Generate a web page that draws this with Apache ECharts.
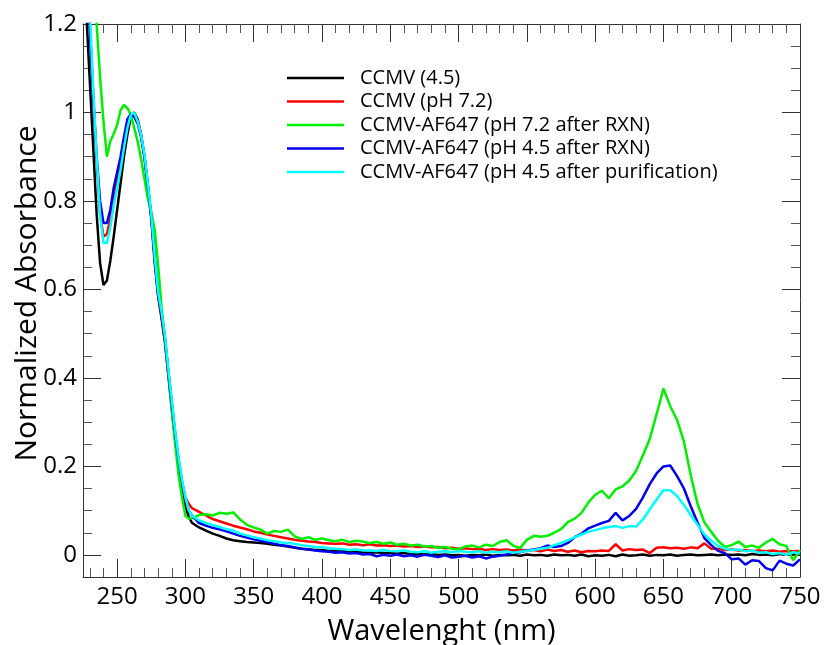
<!DOCTYPE html>
<html>
<head>
<meta charset="utf-8">
<script src="https://cdn.jsdelivr.net/npm/echarts@6/dist/echarts.min.js"></script>
<style>
html,body{margin:0;padding:0;background:#fff;}
#chart{width:828px;height:645px;}
</style>
</head>
<body>
<div id="chart"></div>
<script>
// Wavelengths (nm): 2.5 nm steps from 225 to 305, then 5 nm steps to 750
const wavelengths = [
  225,227.5,230,232.5,235,237.5,240,242.5,245,247.5,
  250,252.5,255,257.5,260,262.5,265,267.5,270,272.5,
  275,277.5,280,282.5,285,287.5,290,292.5,295,297.5,
  300,302.5,305,
  310,315,320,325,330,335,340,345,350,355,
  360,365,370,375,380,385,390,395,400,405,
  410,415,420,425,430,435,440,445,450,455,
  460,465,470,475,480,485,490,495,500,505,
  510,515,520,525,530,535,540,545,550,555,
  560,565,570,575,580,585,590,595,600,605,
  610,615,620,625,630,635,640,645,650,655,
  660,665,670,675,680,685,690,695,700,705,
  710,715,720,725,730,735,740,745,750
];

const seriesNames = [
  'CCMV (4.5)',
  'CCMV (pH 7.2)',
  'CCMV-AF647 (pH 7.2 after RXN)',
  'CCMV-AF647 (pH 4.5 after RXN)',
  'CCMV-AF647 (pH 4.5 after purification)'
];

const ccmv45 = [
  1.50,1.22,1.07,0.92,0.77,0.66,0.61,0.62,0.665,0.72,
  0.78,0.84,0.90,0.95,0.99,1.00,0.985,0.95,0.90,0.83,
  0.76,0.66,0.585,0.535,0.48,0.405,0.33,0.26,0.20,0.15,
  0.11,0.085,0.072,
  0.062,0.055,0.048,0.043,0.037,0.033,0.031,0.029,0.028,0.027,
  0.025,0.023,0.021,0.019,0.016,0.014,0.013,0.011,0.011,0.009,
  0.010,0.008,0.008,0.007,0.006,0.005,0.006,0.004,0.004,0.003,
  0.004,0.002,0.002,0.001,0.002,0.000,0.001,-0.001,0.000,-0.002,
  0.000,-0.001,0.001,-0.002,0.000,-0.001,0.000,-0.002,0.001,-0.001,
  0.000,-0.002,0.001,-0.001,0.000,-0.002,0.001,-0.003,-0.001,-0.002,
  0.000,-0.003,0.001,-0.002,-0.001,0.001,-0.002,0.000,-0.001,0.001,
  -0.002,0.000,0.001,-0.001,0.000,0.001,-0.001,0.001,0.000,0.001,
  -0.001,0.002,0.000,0.001,-0.001,0.002,0.000,0.003,0.001
];

const ccmv72 = [
  1.55,1.36,1.20,1.04,0.89,0.77,0.72,0.725,0.76,0.81,
  0.85,0.89,0.935,0.975,0.995,1.00,0.98,0.95,0.90,0.835,
  0.765,0.67,0.59,0.54,0.485,0.41,0.34,0.27,0.21,0.165,
  0.13,0.115,0.105,
  0.097,0.089,0.081,0.076,0.071,0.066,0.062,0.058,0.053,0.050,
  0.046,0.043,0.040,0.037,0.034,0.032,0.030,0.029,0.027,0.026,
  0.025,0.026,0.023,0.024,0.022,0.024,0.021,0.022,0.020,0.021,
  0.019,0.020,0.018,0.019,0.017,0.018,0.015,0.016,0.014,0.015,
  0.013,0.014,0.011,0.013,0.011,0.012,0.010,0.012,0.009,0.011,
  0.008,0.012,0.009,0.011,0.007,0.010,0.006,0.009,0.008,0.010,
  0.009,0.024,0.010,0.013,0.011,0.012,0.004,0.016,0.017,0.015,
  0.016,0.014,0.017,0.015,0.026,0.014,0.014,0.011,0.012,0.010,
  0.011,0.009,0.010,0.008,0.010,0.007,0.009,0.008,0.009
];

const af647pH72 = [
  1.90,1.65,1.45,1.30,1.20,1.08,0.98,0.90,0.935,0.952,
  0.972,1.005,1.017,1.010,0.995,0.965,0.935,0.895,0.85,0.805,
  0.775,0.735,0.655,0.56,0.49,0.41,0.33,0.25,0.18,0.13,
  0.088,0.082,0.083,
  0.090,0.092,0.089,0.095,0.093,0.096,0.080,0.068,0.062,0.057,
  0.048,0.054,0.052,0.057,0.042,0.036,0.040,0.034,0.037,0.033,
  0.031,0.034,0.029,0.032,0.030,0.027,0.029,0.025,0.028,0.023,
  0.025,0.021,0.023,0.019,0.020,0.016,0.018,0.014,0.013,0.019,
  0.021,0.017,0.023,0.020,0.029,0.033,0.021,0.015,0.034,0.043,
  0.041,0.043,0.050,0.058,0.074,0.082,0.095,0.118,0.136,0.145,
  0.128,0.148,0.155,0.168,0.190,0.225,0.262,0.318,0.376,0.336,
  0.305,0.256,0.180,0.115,0.073,0.052,0.032,0.018,0.022,0.030,
  0.018,0.021,0.016,0.028,0.036,0.024,0.020,-0.012,0.010
];

const af647pH45 = [
  1.55,1.35,1.19,1.03,0.90,0.80,0.75,0.75,0.78,0.83,
  0.865,0.90,0.945,0.985,0.997,0.99,0.975,0.945,0.90,0.835,
  0.765,0.67,0.59,0.545,0.49,0.415,0.345,0.275,0.215,0.165,
  0.125,0.10,0.088,
  0.072,0.066,0.061,0.058,0.053,0.048,0.043,0.039,0.035,0.032,
  0.029,0.025,0.022,0.020,0.017,0.014,0.012,0.010,0.008,0.007,
  0.005,0.006,0.003,0.004,0.001,0.002,-0.003,0.000,-0.002,0.001,
  -0.003,-0.001,-0.004,0.000,-0.002,-0.005,-0.001,-0.006,-0.004,-0.002,
  -0.006,-0.003,-0.008,-0.004,-0.002,0.001,0.004,0.006,0.010,0.012,
  0.015,0.021,0.018,0.020,0.027,0.040,0.048,0.060,0.066,0.072,
  0.077,0.095,0.078,0.088,0.104,0.130,0.160,0.184,0.200,0.202,
  0.178,0.150,0.110,0.073,0.038,0.022,0.009,0.004,-0.010,-0.008,
  -0.022,-0.012,-0.014,-0.030,-0.035,-0.013,-0.020,-0.024,-0.010
];

const af647Purified = [
  1.60,1.40,1.23,1.05,0.90,0.77,0.705,0.705,0.74,0.79,
  0.83,0.87,0.92,0.965,0.995,1.00,0.98,0.95,0.905,0.84,
  0.77,0.675,0.595,0.55,0.495,0.42,0.35,0.28,0.22,0.17,
  0.13,0.10,0.088,
  0.078,0.072,0.067,0.063,0.058,0.055,0.048,0.044,0.040,0.037,
  0.033,0.031,0.028,0.027,0.025,0.022,0.020,0.018,0.017,0.015,
  0.014,0.013,0.011,0.012,0.010,0.010,0.009,0.011,0.009,0.008,
  0.010,0.007,0.006,0.008,0.005,0.007,0.008,0.006,0.009,0.007,
  0.006,0.008,0.005,0.007,0.006,0.008,0.005,0.007,0.009,0.011,
  0.014,0.016,0.022,0.027,0.033,0.040,0.046,0.052,0.056,0.060,
  0.063,0.065,0.061,0.065,0.064,0.080,0.103,0.125,0.146,0.146,
  0.133,0.113,0.090,0.068,0.046,0.032,0.020,0.014,0.011,0.012,
  0.008,0.010,0.005,0.006,0.002,0.004,0.000,0.006,0.003
];

const seriesValues = [ccmv45, ccmv72, af647pH72, af647pH45, af647Purified];
const seriesColors = ['#000000', '#ff0000', '#00ee00', '#0000ee', '#00ffff'];

const FONT = 'Open Sans';
const axisColor = '#333';

function xAxisDef(pos, showLabels) {
  return {
    type: 'value', position: pos, min: 225, max: 750, splitNumber: 10,
    axisLine: { show: true, onZero: false, lineStyle: { color: axisColor, width: 1 } },
    axisTick: { show: true, inside: true, length: 18, lineStyle: { color: axisColor, width: 1 } },
    minorTick: { show: true, splitNumber: 5, length: 9, lineStyle: { color: '#555', width: 1 } },
    splitLine: { show: false },
    axisLabel: { show: showLabels, showMinLabel: false, fontSize: 24, fontFamily: FONT, color: '#000', margin: 8 },
    name: showLabels ? 'Wavelenght (nm)' : '',
    nameLocation: 'middle', nameGap: 40, nameMoveOverlap: false,
    nameTextStyle: { fontSize: 29, fontFamily: FONT, color: '#000' }
  };
}
function yAxisDef(pos, showLabels) {
  return {
    type: 'value', position: pos, min: -0.05, max: 1.2, splitNumber: 6,
    axisLine: { show: true, onZero: false, lineStyle: { color: axisColor, width: 1 } },
    axisTick: { show: true, inside: true, length: 18, lineStyle: { color: axisColor, width: 1 } },
    minorTick: { show: true, splitNumber: 4, length: 9, lineStyle: { color: '#555', width: 1 } },
    splitLine: { show: false },
    axisLabel: { show: showLabels, showMinLabel: false, fontSize: 24, fontFamily: FONT, color: '#000', margin: 6 },
    name: showLabels ? 'Normalized Absorbance' : '',
    nameLocation: 'middle', nameGap: 41, nameMoveOverlap: false,
    nameTextStyle: { fontSize: 30, fontFamily: FONT, color: '#000', padding: [0, 0, 0, 14] }
  };
}

const chart = echarts.init(document.getElementById('chart'), null, { renderer: 'canvas' });
chart.setOption({
  animation: false,
  backgroundColor: '#ffffff',
  grid: { left: 83, right: 28, top: 24, bottom: 68, containLabel: false, outerBoundsMode: 'none' },
  xAxis: [xAxisDef('bottom', true), xAxisDef('top', false)],
  yAxis: [yAxisDef('left', true), yAxisDef('right', false)],
  legend: {
    orient: 'vertical', left: 287, top: 68, padding: 0,
    icon: 'rect', itemWidth: 57, itemHeight: 2.5, itemGap: 3.5,
    data: seriesNames,
    textStyle: { fontSize: 20, fontFamily: FONT, color: '#000', lineHeight: 20, padding: [0, 0, 0, 11] }
  },
  series: seriesNames.map((name, k) => ({
    name: name,
    type: 'line',
    xAxisIndex: 0, yAxisIndex: 0,
    symbol: 'none',
    color: seriesColors[k],
    lineStyle: { color: seriesColors[k], width: 2.5 },
    data: wavelengths.map((w, i) => [w, seriesValues[k][i]])
  }))
});
</script>
</body>
</html>
